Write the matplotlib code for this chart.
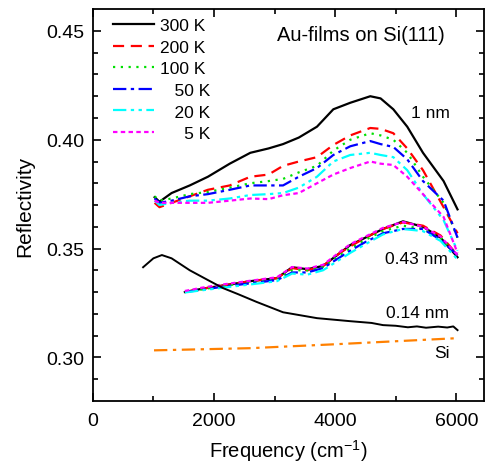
import matplotlib
matplotlib.use("Agg")
import matplotlib.pyplot as plt

plt.rcParams['font.family'] = ['Liberation Sans', 'DejaVu Sans']

# 1 nm film, six temperatures
f_1nm = [1020, 1100, 1300, 1600, 1900, 2260, 2600, 2900, 3140, 3400, 3700, 3970, 4250, 4580, 4750, 4960, 5190, 5450, 5790, 6020]
r_300 = [0.3736, 0.3715, 0.3755, 0.379, 0.383, 0.389, 0.394, 0.396, 0.398, 0.401, 0.406, 0.414, 0.417, 0.420, 0.419, 0.414, 0.406, 0.394, 0.381, 0.368]
r_200 = [0.371, 0.369, 0.371, 0.374, 0.377, 0.379, 0.383, 0.384, 0.388, 0.390, 0.392, 0.3976, 0.402, 0.4054, 0.405, 0.403, 0.396, 0.386, 0.369, 0.357]
r_100 = [0.374, 0.372, 0.373, 0.375, 0.376, 0.378, 0.380, 0.381, 0.382, 0.385, 0.388, 0.395, 0.400, 0.403, 0.402, 0.400, 0.394, 0.383, 0.371, 0.355]
r_50 = [0.373, 0.371, 0.372, 0.374, 0.375, 0.377, 0.379, 0.379, 0.379, 0.383, 0.387, 0.393, 0.397, 0.3994, 0.398, 0.3967, 0.391, 0.381, 0.372, 0.355]
r_20 = [0.372, 0.370, 0.371, 0.372, 0.372, 0.373, 0.3746, 0.375, 0.3755, 0.378, 0.383, 0.390, 0.393, 0.394, 0.393, 0.392, 0.386, 0.375, 0.363, 0.349]
r_5 = [0.372, 0.371, 0.371, 0.371, 0.371, 0.372, 0.373, 0.3727, 0.3745, 0.3755, 0.380, 0.384, 0.387, 0.390, 0.389, 0.3884, 0.383, 0.375, 0.3645, 0.348]

# 0.43 nm film
f_043 = [1520, 1800, 2150, 2600, 3040, 3290, 3540, 3800, 4080, 4250, 4500, 4790, 5120, 5450, 5740, 6020]
r043_300 = [0.330, 0.3315, 0.333, 0.335, 0.3364, 0.3414, 0.3405, 0.342, 0.348, 0.3516, 0.355, 0.359, 0.3625, 0.360, 0.355, 0.346]
r043_200 = [0.330, 0.3315, 0.333, 0.335, 0.3364, 0.341, 0.340, 0.342, 0.348, 0.351, 0.355, 0.359, 0.362, 0.3605, 0.356, 0.347]
r043_100 = [0.330, 0.3312, 0.3328, 0.3345, 0.336, 0.340, 0.340, 0.3415, 0.347, 0.350, 0.354, 0.358, 0.3605, 0.359, 0.355, 0.347]
r043_50 = [0.330, 0.331, 0.3325, 0.334, 0.3355, 0.339, 0.339, 0.341, 0.346, 0.349, 0.353, 0.357, 0.359, 0.359, 0.354, 0.347]
r043_20 = [0.3298, 0.3308, 0.332, 0.3335, 0.335, 0.3385, 0.338, 0.340, 0.345, 0.348, 0.352, 0.3565, 0.359, 0.358, 0.3535, 0.345]
r043_5 = [0.3305, 0.332, 0.3335, 0.3352, 0.3368, 0.3415, 0.3408, 0.3425, 0.3485, 0.352, 0.3555, 0.3595, 0.3622, 0.360, 0.3555, 0.347]

# 0.14 nm film
f_014 = [830, 1000, 1140, 1300, 1600, 1900, 2150, 2400, 2700, 3140, 3700, 4250, 4600, 4790, 5000, 5200, 5350, 5500, 5700, 5850, 5950, 6020]
r_014 = [0.3414, 0.3455, 0.347, 0.3455, 0.340, 0.3355, 0.3318, 0.329, 0.3255, 0.3207, 0.318, 0.3166, 0.3158, 0.3148, 0.3145, 0.3138, 0.3142, 0.3136, 0.3141, 0.3137, 0.3142, 0.3125]

# bare Si
f_si = [1010, 2600, 4000, 6020]
r_si = [0.3032, 0.3042, 0.306, 0.3088]

curves = [
    ("300 K", r_300, r043_300, 'black', '-'),
    ("200 K", r_200, r043_200, 'red', (0, (5, 3))),
    ("100 K", r_100, r043_100, '#00e000', (0, (1, 2.5))),
    ("\u2007 50 K", r_50, r043_50, 'blue', (0, (6, 2, 1.5, 2))),
    ("\u2007 20 K", r_20, r043_20, 'cyan', (0, (6, 2, 1.5, 2, 1.5, 2))),
    ("\u2007\u2007 5 K", r_5, r043_5, 'magenta', (0, (2, 1.5))),
]

fig = plt.figure(figsize=(4.86, 4.64), dpi=100)
ax = fig.add_axes([0.191, 0.134, 0.804, 0.844])

for lab, r1, r2, c, ls in curves:
    ax.plot(f_1nm, r1, color=c, ls=ls, lw=1.6, label=lab)
    ax.plot(f_043, r2, color=c, ls=ls, lw=1.6)

ax.plot(f_014, r_014, color='black', lw=1.4)
ax.plot(f_si, r_si, color='#ff8000', ls=(0, (6, 2.5, 1.5, 2.5)), lw=1.6)

ax.set_xlim(0, 6450)
ax.set_ylim(0.28, 0.46)
ax.set_xticks([0, 2000, 4000, 6000])
ax.set_xticks([1000, 3000, 5000], minor=True)
ax.set_yticks([0.30, 0.35, 0.40, 0.45])
ax.set_yticks([0.29, 0.31, 0.32, 0.33, 0.34, 0.36, 0.37, 0.38, 0.39, 0.41, 0.42, 0.43, 0.44], minor=True)
ax.set_yticklabels(['0.30', '0.35', '0.40', '0.45'])
ax.tick_params(which='both', direction='in', top=True, right=True, labelsize=14, width=1.2)
ax.tick_params(which='major', length=6)
ax.tick_params(which='minor', length=3.5)
ax.tick_params(axis='x', pad=8)
ax.tick_params(axis='y', pad=6)
for s in ax.spines.values():
    s.set_linewidth(1.3)

ax.set_xlabel("Frequency (cm$^{\\mathregular{-1}}$)", fontsize=14.5, labelpad=6)
ax.set_ylabel("Reflectivity", fontsize=15, labelpad=9)

ax.text(4430, 0.4486, "Au-films on Si(111)", fontsize=14.5, ha='center', va='center')
ax.text(5570, 0.4125, "1 nm", fontsize=12.5, ha='center', va='center')
ax.text(5340, 0.3456, "0.43 nm", fontsize=12.5, ha='center', va='center')
ax.text(5355, 0.3207, "0.14 nm", fontsize=12.5, ha='center', va='center')
ax.text(5770, 0.3023, "Si", fontsize=12.5, ha='center', va='center')

ax.legend(loc='upper left', bbox_to_anchor=(0.033, 0.995), frameon=False, fontsize=12.5,
          handlelength=2.4, labelspacing=0.37, handletextpad=0.3, borderaxespad=0)

fig.savefig("out.png", dpi=100)
